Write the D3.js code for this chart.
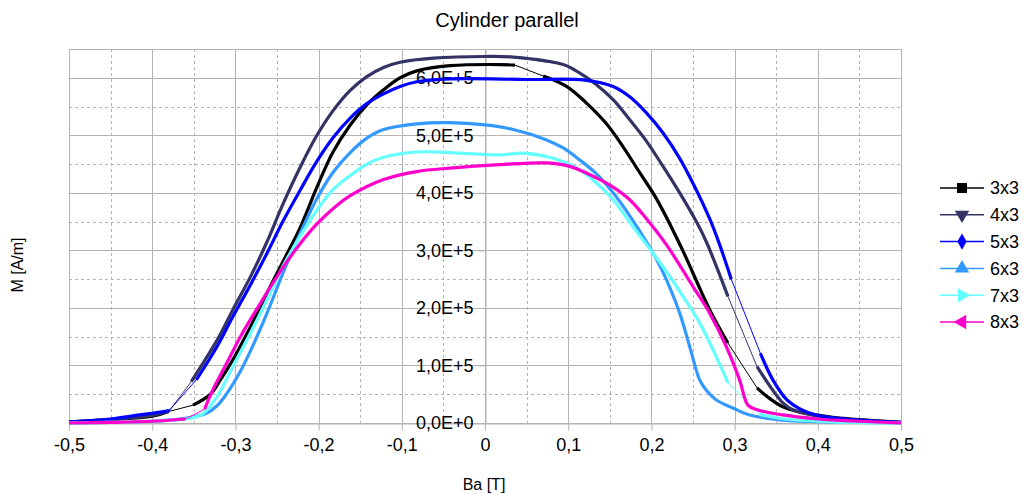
<!DOCTYPE html>
<html>
<head>
<meta charset="utf-8">
<script src="https://cdn.jsdelivr.net/npm/d3@7/dist/d3.min.js"></script>
<style>
  body { margin: 0; background: #fff; }
  text { font-family: "Liberation Sans", Arial, sans-serif; fill: #000; }
</style>
</head>
<body>
<svg width="1023" height="495"></svg>
<script>
// Ba [T] vs M in units of 1e5 A/m; null = gap where only the thin joining line shows
var data3x3 = [[-0.5,0.02],[-0.45,0.06],[-0.4,0.12],[-0.38,0.2],null,[-0.351,0.31],[-0.33,0.5],[-0.318,0.75],
  [-0.303,1.1],[-0.282,1.67],[-0.262,2.26],[-0.243,2.8],[-0.222,3.4],[-0.202,4.1],[-0.183,4.7],[-0.162,5.18],
  [-0.142,5.53],[-0.122,5.79],[-0.102,6.0],[-0.082,6.12],[-0.042,6.21],[0.018,6.23],[0.036,6.22],null,
  [0.07,6.03],[0.098,5.85],[0.122,5.56],[0.146,5.2],[0.166,4.8],[0.186,4.35],[0.206,3.9],[0.236,3.05],
  [0.27,1.97],[0.292,1.39],null,[0.327,0.61],[0.339,0.46],[0.358,0.28],[0.379,0.19],[0.418,0.1],[0.44,0.07],[0.5,0.01]];
var data4x3 = [[-0.5,0.02],[-0.45,0.06],[-0.4,0.13],[-0.379,0.22],null,[-0.353,0.72],[-0.322,1.44],[-0.303,1.97],
  [-0.282,2.54],[-0.262,3.15],[-0.243,3.8],[-0.222,4.45],[-0.202,5.0],[-0.183,5.42],[-0.162,5.78],[-0.142,6.02],
  [-0.122,6.18],[-0.102,6.27],[-0.062,6.34],[0.0,6.37],[0.034,6.36],[0.094,6.23],[0.114,6.08],[0.134,5.88],
  [0.154,5.62],[0.174,5.27],[0.194,4.9],[0.214,4.46],[0.234,4.0],[0.254,3.5],[0.266,3.15],[0.292,2.2],null,
  [0.327,0.98],[0.343,0.63],[0.358,0.35],[0.37,0.23],[0.4,0.12],[0.45,0.05],[0.5,0.01]];
var data5x3 = [[-0.5,0.02],[-0.45,0.07],[-0.415,0.14],[-0.38,0.21],null,[-0.347,0.75],[-0.322,1.33],[-0.303,1.85],
  [-0.282,2.4],[-0.262,2.95],[-0.243,3.5],[-0.222,4.05],[-0.202,4.55],[-0.182,4.97],[-0.162,5.3],[-0.142,5.55],
  [-0.122,5.72],[-0.102,5.85],[-0.082,5.93],[-0.042,5.98],[0.05,5.97],[0.12,5.96],[0.154,5.85],[0.174,5.67],
  [0.194,5.39],[0.214,5.04],[0.234,4.6],[0.254,4.05],[0.27,3.55],[0.282,3.1],[0.296,2.5],null,[0.331,1.21],
  [0.346,0.75],[0.363,0.4],[0.379,0.24],[0.4,0.13],[0.45,0.05],[0.5,0.01]];
var data6x3 = [[-0.5,0.0],[-0.45,0.01],[-0.4,0.03],[-0.36,0.08],[-0.335,0.17],[-0.322,0.3],[-0.31,0.52],
  [-0.294,0.9],[-0.282,1.25],[-0.262,1.91],[-0.243,2.6],[-0.222,3.3],[-0.202,3.9],[-0.183,4.35],[-0.162,4.7],
  [-0.142,4.95],[-0.122,5.1],[-0.082,5.2],[-0.042,5.22],[0.0,5.18],[0.034,5.1],[0.074,4.92],[0.094,4.78],
  [0.114,4.57],[0.134,4.33],[0.154,4.0],[0.174,3.6],[0.194,3.15],[0.206,2.85],[0.218,2.49],[0.234,1.91],
  [0.246,1.33],[0.258,0.75],[0.266,0.57],[0.278,0.4],[0.298,0.26],[0.318,0.14],[0.358,0.05],[0.42,0.02],[0.5,0.0]];
var data7x3 = [[-0.5,0.0],[-0.45,0.01],[-0.4,0.03],[-0.36,0.07],[-0.34,0.15],[-0.322,0.46],[-0.303,0.98],
  [-0.282,1.56],[-0.262,2.14],[-0.243,2.72],[-0.222,3.25],[-0.202,3.7],[-0.183,4.05],[-0.162,4.3],[-0.142,4.5],
  [-0.122,4.62],[-0.082,4.71],[-0.042,4.7],[0.018,4.66],[0.046,4.69],[0.082,4.6],[0.114,4.4],[0.134,4.17],
  [0.154,3.88],[0.178,3.41],[0.202,2.95],[0.222,2.55],[0.238,2.2],[0.258,1.74],[0.278,1.15],[0.292,0.7],null,
  [0.33,0.15],[0.36,0.07],[0.42,0.02],[0.5,0.0]];
var data8x3 = [[-0.5,0.0],[-0.45,0.01],[-0.4,0.03],[-0.36,0.07],null,[-0.337,0.24],[-0.327,0.58],[-0.31,1.05],
  [-0.294,1.5],[-0.27,2.08],[-0.243,2.7],[-0.222,3.12],[-0.202,3.46],[-0.183,3.72],[-0.162,3.95],[-0.122,4.23],
  [-0.082,4.37],[-0.042,4.43],[0.018,4.49],[0.074,4.52],[0.102,4.46],[0.134,4.26],[0.154,4.1],[0.174,3.88],
  [0.194,3.55],[0.218,3.1],[0.25,2.37],[0.27,1.91],[0.29,1.33],[0.306,0.75],[0.316,0.31],[0.327,0.23],
  [0.358,0.14],[0.4,0.07],[0.45,0.03],[0.5,0.0]];

var seriesNames = ['3x3', '4x3', '5x3', '6x3', '7x3', '8x3'];
var seriesColors = ['#000000', '#333366', '#0000ff', '#3399ff', '#66ffff', '#ff00cc'];
var seriesData = [data3x3, data4x3, data5x3, data6x3, data7x3, data8x3];

var xTicks = [-0.5, -0.4, -0.3, -0.2, -0.1, 0, 0.1, 0.2, 0.3, 0.4, 0.5];
var xTickLabels = ['-0,5', '-0,4', '-0,3', '-0,2', '-0,1', '0', '0,1', '0,2', '0,3', '0,4', '0,5'];
var yTicks = [0, 1, 2, 3, 4, 5, 6];
var yTickLabels = ['0,0E+0', '1,0E+5', '2,0E+5', '3,0E+5', '4,0E+5', '5,0E+5', '6,0E+5'];

var svg = d3.select('svg');
var plot = {l: 69, r: 901, t: 49, b: 423};

var xScale = d3.scaleLinear().domain([-0.5, 0.5]).range([plot.l, plot.r]);
var yScale = d3.scaleLinear().domain([0, 6.5]).range([plot.b, plot.t]);

var gridG = svg.append('g');
// minor dashed grid
gridG.selectAll('.xminor')
    .data(d3.range(-0.45, 0.5, 0.1))
    .enter().append('line')
    .attr('x1', function(d) { return Math.round(xScale(d)) + 0.5; })
    .attr('x2', function(d) { return Math.round(xScale(d)) + 0.5; })
    .attr('y1', plot.t).attr('y2', plot.b)
    .attr('stroke', '#b3b3b3').attr('stroke-dasharray', '3,3');
gridG.selectAll('.yminor')
    .data(d3.range(0.5, 6.5, 1))
    .enter().append('line')
    .attr('y1', function(d) { return Math.round(yScale(d)) + 0.5; })
    .attr('y2', function(d) { return Math.round(yScale(d)) + 0.5; })
    .attr('x1', plot.l).attr('x2', plot.r)
    .attr('stroke', '#b3b3b3').attr('stroke-dasharray', '3,3');
// major solid grid
gridG.selectAll('.xmajor')
    .data(xTicks)
    .enter().append('line')
    .attr('x1', function(d) { return Math.round(xScale(d)) + 0.5; })
    .attr('x2', function(d) { return Math.round(xScale(d)) + 0.5; })
    .attr('y1', plot.t).attr('y2', plot.b)
    .attr('stroke', '#b3b3b3');
gridG.selectAll('.ymajor')
    .data(yTicks.concat([6.5]))
    .enter().append('line')
    .attr('y1', function(d) { return Math.round(yScale(d)) + 0.5; })
    .attr('y2', function(d) { return Math.round(yScale(d)) + 0.5; })
    .attr('x1', plot.l).attr('x2', plot.r)
    .attr('stroke', '#b3b3b3');

// axes
var xAxis = d3.axisBottom(xScale)
    .tickValues(xTicks)
    .tickSize(7)
    .tickPadding(8)
    .tickFormat(function(d, i) { return xTickLabels[i]; });
var xAxisG = svg.append('g')
    .attr('transform', 'translate(0,' + (plot.b + 0.5) + ')')
    .call(xAxis);

var yAxis = d3.axisLeft(yScale)
    .tickValues(yTicks)
    .tickSize(7)
    .tickPadding(5)
    .tickFormat(function(d, i) { return yTickLabels[i]; });
var yAxisG = svg.append('g')
    .attr('transform', 'translate(' + (Math.round(xScale(0)) + 0.5) + ',0)')
    .call(yAxis);

[xAxisG, yAxisG].forEach(function(g) {
    g.select('.domain').attr('stroke', '#b3b3b3');
    g.selectAll('.tick line').attr('stroke', '#b3b3b3');
    g.selectAll('.tick text')
        .attr('fill', '#000')
        .style('font-family', '"Liberation Sans", Arial, sans-serif')
        .style('font-size', '18px');
});

// series
var thinLine = d3.line()
    .x(function(d) { return xScale(d[0]); })
    .y(function(d) { return yScale(d[1]); });
var thickLine = d3.line()
    .defined(function(d) { return d !== null; })
    .x(function(d) { return xScale(d[0]); })
    .y(function(d) { return yScale(d[1]); })
    .curve(d3.curveCatmullRom.alpha(0.5));

var seriesG = svg.append('g').selectAll('.series')
    .data(seriesData)
    .enter().append('g')
    .attr('class', 'series');

seriesG.append('path')
    .attr('d', function(d) { return thinLine(d.filter(function(p) { return p; })); })
    .attr('fill', 'none')
    .attr('stroke', function(d, i) { return seriesColors[i]; })
    .attr('stroke-width', 1);

seriesG.append('path')
    .attr('d', thickLine)
    .attr('fill', 'none')
    .attr('stroke', function(d, i) { return seriesColors[i]; })
    .attr('stroke-width', 3.2)
    .attr('stroke-linejoin', 'round');

// titles
svg.append('text')
    .attr('x', 507).attr('y', 27)
    .attr('text-anchor', 'middle')
    .style('font-size', '20px')
    .text('Cylinder parallel');

svg.append('text')
    .attr('x', 484).attr('y', 490)
    .attr('text-anchor', 'middle')
    .style('font-size', '16px')
    .text('Ba [T]');

svg.append('text')
    .attr('transform', 'translate(23,265) rotate(-90)')
    .attr('text-anchor', 'middle')
    .style('font-size', '16px')
    .text('M [A/m]');

// legend
var symbols = [
    {type: d3.symbolSquare, rot: 0, size: 100},
    {type: d3.symbolTriangle, rot: 180, size: 90},
    {type: d3.symbolDiamond, rot: 0, size: 75},
    {type: d3.symbolTriangle, rot: 0, size: 90},
    {type: d3.symbolTriangle, rot: 90, size: 90},
    {type: d3.symbolTriangle, rot: -90, size: 90}
];

var legendG = svg.append('g').selectAll('.legend')
    .data(seriesNames)
    .enter().append('g')
    .attr('class', 'legend')
    .attr('transform', function(d, i) { return 'translate(962,' + (188 + i * 26.8) + ')'; });

legendG.append('line')
    .attr('x1', -22).attr('x2', 22)
    .attr('stroke', function(d, i) { return seriesColors[i]; })
    .attr('stroke-width', 1.5);

legendG.append('path')
    .attr('d', function(d, i) { return d3.symbol().type(symbols[i].type).size(symbols[i].size)(); })
    .attr('transform', function(d, i) { return 'rotate(' + symbols[i].rot + ')'; })
    .attr('fill', function(d, i) { return seriesColors[i]; });

legendG.append('text')
    .attr('x', 28).attr('dy', '0.35em')
    .style('font-size', '18px')
    .text(function(d) { return d; });
</script>
</body>
</html>
